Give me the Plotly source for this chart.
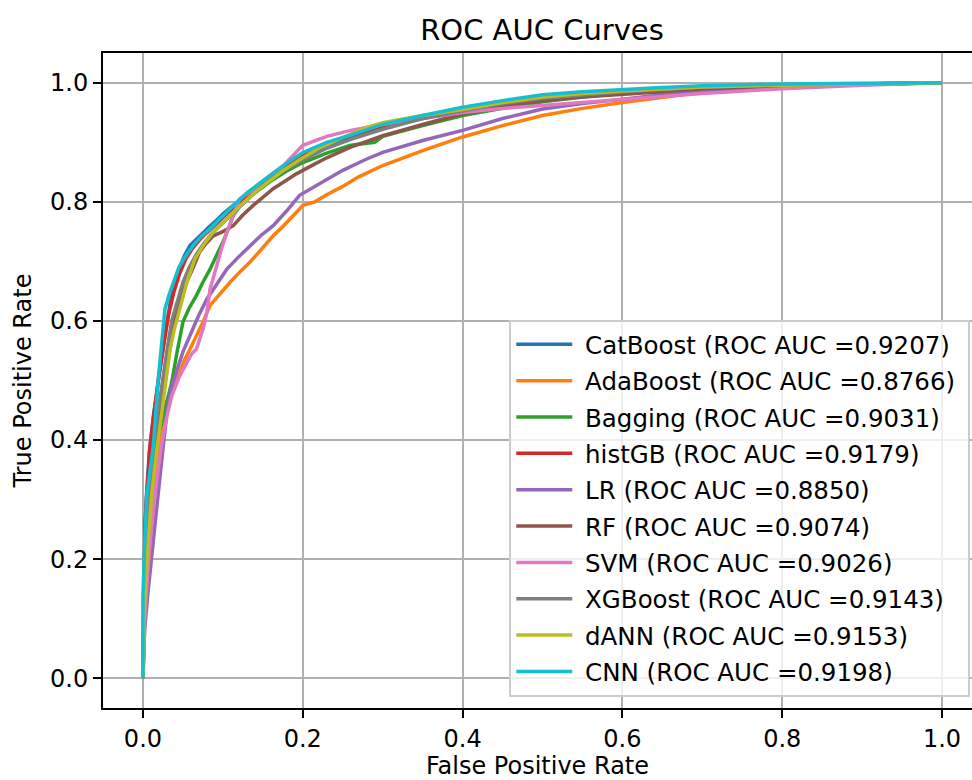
import plotly.graph_objects as go

model_names = ["CatBoost", "AdaBoost", "Bagging", "histGB", "LR", "RF", "SVM", "XGBoost", "dANN", "CNN"]
auc_values = [0.9207, 0.8766, 0.9031, 0.9179, 0.8850, 0.9074, 0.9026, 0.9143, 0.9153, 0.9198]
colors = ["#1f77b4", "#ff7f0e", "#2ca02c", "#d62728", "#9467bd", "#8c564b", "#e377c2", "#7f7f7f", "#bcbd22", "#17becf"]

catboost_fpr = [0, 0.001, 0.004, 0.008, 0.013, 0.018, 0.023, 0.028, 0.034, 0.040, 0.046, 0.052, 0.059, 0.067, 0.075, 0.083, 0.092, 0.102, 0.113, 0.124, 0.134, 0.148, 0.163, 0.18, 0.196, 0.22, 0.25, 0.28, 0.30, 0.35, 0.40, 0.45, 0.50, 0.55, 0.60, 0.65, 0.70, 0.75, 0.80, 0.85, 0.90, 0.95, 1.0]
catboost_tpr = [0, 0.15, 0.30, 0.38, 0.44, 0.49, 0.53, 0.58, 0.63, 0.665, 0.69, 0.71, 0.727, 0.738, 0.749, 0.758, 0.769, 0.782, 0.794, 0.806, 0.816, 0.83, 0.844, 0.858, 0.872, 0.888, 0.903, 0.918, 0.925, 0.94, 0.953, 0.965, 0.975, 0.982, 0.987, 0.99, 0.993, 0.995, 0.996, 0.997, 0.998, 0.999, 1.0]

adaboost_fpr = [0, 0.003, 0.008, 0.013, 0.018, 0.023, 0.028, 0.033, 0.038, 0.045, 0.052, 0.059, 0.067, 0.075, 0.084, 0.096, 0.109, 0.121, 0.134, 0.148, 0.163, 0.176, 0.188, 0.2, 0.215, 0.23, 0.25, 0.27, 0.3, 0.35, 0.4, 0.45, 0.5, 0.55, 0.6, 0.65, 0.7, 0.8, 0.9, 1.0]
adaboost_tpr = [0, 0.12, 0.22, 0.30, 0.37, 0.42, 0.455, 0.475, 0.486, 0.51, 0.535, 0.553, 0.575, 0.598, 0.626, 0.645, 0.665, 0.682, 0.699, 0.72, 0.743, 0.76, 0.777, 0.794, 0.8, 0.812, 0.826, 0.842, 0.861, 0.886, 0.909, 0.928, 0.945, 0.957, 0.967, 0.976, 0.984, 0.992, 0.997, 1.0]

bagging_fpr = [0, 0.001, 0.004, 0.008, 0.012, 0.018, 0.025, 0.031, 0.036, 0.043, 0.05, 0.058, 0.067, 0.075, 0.084, 0.092, 0.1, 0.107, 0.113, 0.125, 0.14, 0.16, 0.18, 0.2, 0.23, 0.26, 0.29, 0.3, 0.35, 0.4, 0.45, 0.5, 0.55, 0.6, 0.7, 0.8, 0.9, 1.0]
bagging_tpr = [0, 0.12, 0.2, 0.28, 0.35, 0.40, 0.44, 0.47, 0.497, 0.55, 0.598, 0.622, 0.643, 0.665, 0.687, 0.71, 0.732, 0.755, 0.777, 0.8, 0.815, 0.835, 0.852, 0.866, 0.882, 0.895, 0.9, 0.91, 0.928, 0.945, 0.957, 0.968, 0.976, 0.983, 0.99, 0.995, 0.998, 1.0]

histgb_fpr = [0, 0.001, 0.0025, 0.0088, 0.014, 0.02, 0.026, 0.032, 0.039, 0.046, 0.054, 0.062, 0.072, 0.083, 0.095, 0.108, 0.122, 0.138, 0.155, 0.175, 0.2, 0.23, 0.26, 0.3, 0.35, 0.4, 0.45, 0.5, 0.55, 0.6, 0.7, 0.8, 0.9, 1.0]
histgb_tpr = [0, 0.15, 0.262, 0.39, 0.45, 0.51, 0.56, 0.61, 0.65, 0.68, 0.705, 0.722, 0.738, 0.752, 0.768, 0.785, 0.803, 0.822, 0.84, 0.86, 0.88, 0.898, 0.912, 0.927, 0.942, 0.955, 0.966, 0.975, 0.982, 0.987, 0.993, 0.996, 0.998, 1.0]

lr_fpr = [0, 0.002, 0.006, 0.011, 0.016, 0.021, 0.026, 0.030, 0.036, 0.043, 0.05, 0.059, 0.069, 0.08, 0.092, 0.105, 0.12, 0.134, 0.148, 0.163, 0.18, 0.196, 0.22, 0.25, 0.28, 0.3, 0.35, 0.4, 0.45, 0.5, 0.55, 0.6, 0.65, 0.7, 0.8, 0.9, 1.0]
lr_tpr = [0, 0.08, 0.14, 0.2, 0.27, 0.334, 0.39, 0.447, 0.49, 0.52, 0.548, 0.576, 0.607, 0.637, 0.662, 0.687, 0.708, 0.727, 0.744, 0.76, 0.785, 0.811, 0.83, 0.853, 0.872, 0.883, 0.903, 0.92, 0.94, 0.956, 0.965, 0.973, 0.98, 0.986, 0.993, 0.997, 1.0]

rf_fpr = [0, 0.002, 0.006, 0.011, 0.017, 0.024, 0.031, 0.037, 0.042, 0.048, 0.055, 0.063, 0.071, 0.079, 0.088, 0.1, 0.113, 0.125, 0.138, 0.15, 0.163, 0.178, 0.192, 0.21, 0.23, 0.26, 0.3, 0.35, 0.4, 0.45, 0.5, 0.55, 0.6, 0.65, 0.7, 0.8, 0.9, 1.0]
rf_tpr = [0, 0.14, 0.25, 0.33, 0.4, 0.47, 0.53, 0.58, 0.62, 0.645, 0.665, 0.69, 0.716, 0.73, 0.743, 0.75, 0.76, 0.778, 0.794, 0.808, 0.822, 0.835, 0.847, 0.86, 0.874, 0.892, 0.911, 0.93, 0.948, 0.96, 0.97, 0.976, 0.98, 0.985, 0.99, 0.995, 0.998, 1.0]

svm_fpr = [0, 0.002, 0.006, 0.011, 0.017, 0.023, 0.03, 0.036, 0.045, 0.055, 0.061, 0.067, 0.071, 0.076, 0.080, 0.084, 0.088, 0.092, 0.098, 0.105, 0.111, 0.121, 0.137, 0.155, 0.168, 0.18, 0.2, 0.23, 0.26, 0.3, 0.35, 0.4, 0.45, 0.5, 0.55, 0.6, 0.65, 0.7, 0.8, 0.9, 1.0]
svm_tpr = [0, 0.1, 0.18, 0.26, 0.33, 0.39, 0.44, 0.474, 0.505, 0.531, 0.545, 0.553, 0.57, 0.59, 0.615, 0.654, 0.672, 0.693, 0.72, 0.749, 0.771, 0.805, 0.82, 0.833, 0.85, 0.867, 0.895, 0.91, 0.92, 0.93, 0.94, 0.95, 0.957, 0.962, 0.967, 0.971, 0.976, 0.982, 0.99, 0.996, 1.0]

xgboost_fpr = [0, 0.002, 0.006, 0.011, 0.017, 0.023, 0.03, 0.036, 0.043, 0.05, 0.058, 0.066, 0.075, 0.085, 0.096, 0.108, 0.12, 0.135, 0.15, 0.167, 0.185, 0.205, 0.23, 0.26, 0.3, 0.35, 0.4, 0.45, 0.5, 0.55, 0.6, 0.65, 0.7, 0.8, 0.9, 1.0]
xgboost_tpr = [0, 0.15, 0.27, 0.36, 0.43, 0.49, 0.55, 0.6, 0.635, 0.665, 0.69, 0.71, 0.728, 0.745, 0.76, 0.775, 0.792, 0.81, 0.828, 0.845, 0.86, 0.874, 0.89, 0.905, 0.922, 0.94, 0.953, 0.965, 0.974, 0.98, 0.985, 0.989, 0.993, 0.996, 0.998, 1.0]

dann_fpr = [0, 0.002, 0.006, 0.011, 0.017, 0.023, 0.029, 0.034, 0.04, 0.046, 0.055, 0.065, 0.076, 0.088, 0.1, 0.113, 0.127, 0.142, 0.158, 0.175, 0.195, 0.22, 0.25, 0.28, 0.3, 0.35, 0.4, 0.45, 0.5, 0.55, 0.6, 0.65, 0.7, 0.8, 0.9, 1.0]
dann_tpr = [0, 0.12, 0.22, 0.31, 0.38, 0.44, 0.5, 0.553, 0.59, 0.62, 0.665, 0.704, 0.728, 0.749, 0.765, 0.782, 0.8, 0.818, 0.835, 0.852, 0.87, 0.89, 0.908, 0.925, 0.933, 0.945, 0.955, 0.967, 0.976, 0.982, 0.986, 0.99, 0.993, 0.996, 0.998, 1.0]

cnn_fpr = [0, 0.0, 0.002, 0.0046, 0.009, 0.013, 0.019, 0.024, 0.0275, 0.033, 0.038, 0.045, 0.054, 0.063, 0.073, 0.084, 0.095, 0.105, 0.118, 0.13, 0.145, 0.16, 0.18, 0.2, 0.23, 0.26, 0.3, 0.35, 0.4, 0.45, 0.5, 0.55, 0.6, 0.65, 0.7, 0.75, 0.8, 0.9, 1.0]
cnn_tpr = [0, 0.138, 0.22, 0.306, 0.35, 0.39, 0.50, 0.57, 0.62, 0.645, 0.665, 0.69, 0.71, 0.727, 0.742, 0.755, 0.77, 0.783, 0.8, 0.815, 0.83, 0.845, 0.865, 0.883, 0.9, 0.912, 0.93, 0.945, 0.959, 0.97, 0.98, 0.985, 0.989, 0.992, 0.995, 0.997, 0.998, 0.999, 1.0]

x_ticks = [0.0, 0.2, 0.4, 0.6, 0.8, 1.0]
y_ticks = [0.0, 0.2, 0.4, 0.6, 0.8, 1.0]
tick_labels = ["0.0", "0.2", "0.4", "0.6", "0.8", "1.0"]

all_fpr = [catboost_fpr, adaboost_fpr, bagging_fpr, histgb_fpr, lr_fpr, rf_fpr, svm_fpr, xgboost_fpr, dann_fpr, cnn_fpr]
all_tpr = [catboost_tpr, adaboost_tpr, bagging_tpr, histgb_tpr, lr_tpr, rf_tpr, svm_tpr, xgboost_tpr, dann_tpr, cnn_tpr]

FONT = "DejaVu Sans"
fig = go.Figure()
for i, name in enumerate(model_names):
    fig.add_trace(go.Scatter(
        x=all_fpr[i], y=all_tpr[i], mode="lines",
        name=f"\u00a0{name} (ROC AUC ={auc_values[i]:.4f})\u00a0",
        legendgroup=f"g{i}",
        line=dict(color=colors[i], width=3.5),
    ))

fig.update_layout(
    width=972, height=780,
    margin=dict(l=103, r=0, t=53, b=72),
    paper_bgcolor="white", plot_bgcolor="white",
    font=dict(family=FONT, size=24, color="black"),
    title=dict(text="ROC AUC Curves", x=542/972, xanchor="center", xref="container",
               y=1 - 30/780, yanchor="middle", yref="container",
               font=dict(family=FONT, size=29, color="black")),
    showlegend=True,
    legend=dict(
        x=0.998, y=0.017, xanchor="right", yanchor="bottom",
        bgcolor="rgba(255,255,255,0.8)", bordercolor="#cccccc", borderwidth=2,
        font=dict(family=FONT, size=24.5, color="black"),
        tracegroupgap=1.5, itemwidth=56,
    ),
)
fig.update_xaxes(
    range=[-0.05, 1.0375], tickvals=x_ticks, ticktext=tick_labels,
    showgrid=True, gridcolor="#b0b0b0", gridwidth=2, zeroline=False,
    showline=True, linecolor="black", linewidth=2, mirror=True,
    ticks="outside", ticklen=8, tickwidth=2, tickcolor="black",
    title=dict(text="False Positive Rate", standoff=10, font=dict(family=FONT, size=24)),
)
fig.update_yaxes(
    range=[-0.05, 1.05], tickvals=y_ticks, ticktext=tick_labels,
    showgrid=True, gridcolor="#b0b0b0", gridwidth=2, zeroline=False,
    showline=True, linecolor="black", linewidth=2, mirror=False,
    ticks="outside", ticklen=8, tickwidth=2, tickcolor="black",
    title=dict(text="True Positive Rate", standoff=12, font=dict(family=FONT, size=24)),
)

fig.write_html("out.html", config={"displayModeBar": False},
               post_script="document.body.style.margin='0px';document.body.style.overflow='hidden';")
